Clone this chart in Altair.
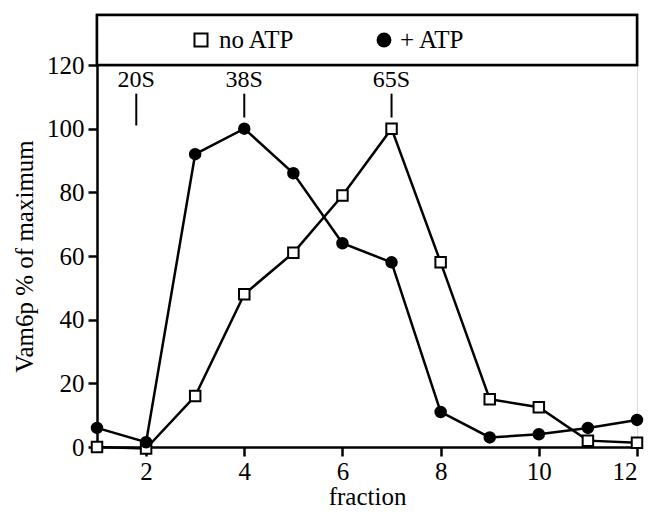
import altair as alt
import pandas as pd

fractions = [1, 2, 3, 4, 5, 6, 7, 8, 9, 10, 11, 12]
no_atp = [0, -0.5, 16, 48, 61, 79, 100, 58, 15, 12.5, 2, 1.3]
plus_atp = [6, 1.5, 92, 100, 86, 64, 58, 11, 3, 4, 6, 8.5]
series_names = ["no ATP", "+ ATP"]

marker_labels = ["20S", "38S", "65S"]
marker_pos = [1.8, 4, 7]
marker_top = [111, 111, 111]
marker_bottom = [101, 103.5, 103.5]
marker_text_y = [113, 113, 113]

rows = []
for f, a, b in zip(fractions, no_atp, plus_atp):
    rows.append({"fraction": f, "value": a, "series": series_names[0]})
    rows.append({"fraction": f, "value": b, "series": series_names[1]})
df = pd.DataFrame(rows)
mk = pd.DataFrame({"label": marker_labels, "x": marker_pos, "y1": marker_bottom,
                   "y2": marker_top, "ty": marker_text_y})
leg = pd.DataFrame({"series": series_names})

W, H = 540, 382
FONT = "'Liberation Serif', 'Times New Roman', 'DejaVu Serif', serif"
FS = 25

xs = alt.Scale(domain=[1, 12], nice=False)
ys = alt.Scale(domain=[0, 120], nice=False)
shape_scale = alt.Scale(domain=series_names, range=["square", "circle"])
fill_scale = alt.Scale(domain=series_names, range=["white", "black"])

x_enc = alt.X("fraction:Q", scale=xs,
              axis=alt.Axis(title="fraction", values=[2, 4, 6, 8, 10, 12], labelPadding=3,
                            titlePadding=0))
y_enc = alt.Y("value:Q", scale=ys,
              axis=alt.Axis(title="Vam6p % of maximum", values=[0, 20, 40, 60, 80, 100, 120],
                            labelPadding=4, titlePadding=9))

lines = alt.Chart(df).mark_line(color="black", strokeWidth=2.5).encode(
    x=x_enc, y=y_enc, detail="series:N")

points = alt.Chart(df).mark_point(filled=False, size=110, strokeWidth=2, opacity=1).encode(
    x=alt.X("fraction:Q", scale=xs),
    y=alt.Y("value:Q", scale=ys),
    shape=alt.Shape("series:N", scale=shape_scale, legend=None),
    fill=alt.Fill("series:N", scale=fill_scale, legend=None),
    stroke=alt.value("black"),
)

box = alt.Chart(leg).mark_rect(fill="white", stroke="black", strokeWidth=2.5).encode(
    x=alt.value(0), x2=alt.value(W), y=alt.value(-50), y2=alt.value(0))

leg_sym_sq = alt.Chart(leg).transform_filter(alt.datum.series == series_names[0]).mark_point(
    shape="square", size=170, strokeWidth=2, color="black", filled=False, opacity=1).encode(
    x=alt.value(104), y=alt.value(-25))
leg_sym_ci = alt.Chart(leg).transform_filter(alt.datum.series == series_names[1]).mark_point(
    shape="circle", size=220, color="black", filled=True, opacity=1).encode(
    x=alt.value(287), y=alt.value(-25))
leg_txt_a = alt.Chart(leg).transform_filter(alt.datum.series == series_names[0]).mark_text(
    font=FONT, fontSize=FS, color="black", align="left", baseline="middle").encode(
    x=alt.value(122), y=alt.value(-25), text="series:N")
leg_txt_b = alt.Chart(leg).transform_filter(alt.datum.series == series_names[1]).mark_text(
    font=FONT, fontSize=FS, color="black", align="left", baseline="middle").encode(
    x=alt.value(303), y=alt.value(-25), text="series:N")

rules = alt.Chart(mk).mark_rule(color="black", strokeWidth=2).encode(
    x=alt.X("x:Q", scale=xs), y=alt.Y("y1:Q", scale=ys), y2="y2:Q")

texts = alt.Chart(mk).mark_text(font=FONT, fontSize=24, color="black", baseline="alphabetic").encode(
    x=alt.X("x:Q", scale=xs), y=alt.Y("ty:Q", scale=ys), text="label:N")

chart = alt.layer(box, leg_sym_sq, leg_sym_ci, leg_txt_a, leg_txt_b,
                  lines, points, rules, texts).properties(
    width=W, height=H,
    autosize=alt.AutoSizeParams(type="none"),
    padding={"left": 89, "top": 57, "right": 7, "bottom": 66},
).configure_view(stroke="black", strokeWidth=2.5).configure(
    background="white", font=FONT).configure_axis(
    grid=False, tickSize=9, tickWidth=2.5, domainWidth=2.5, domainColor="black",
    tickColor="black", labelFontSize=FS, titleFontSize=FS, labelFont=FONT, titleFont=FONT,
    labelColor="black", titleColor="black", titleFontWeight="normal"
)

chart.save("out.html", embed_options={"renderer": "svg", "actions": False})
